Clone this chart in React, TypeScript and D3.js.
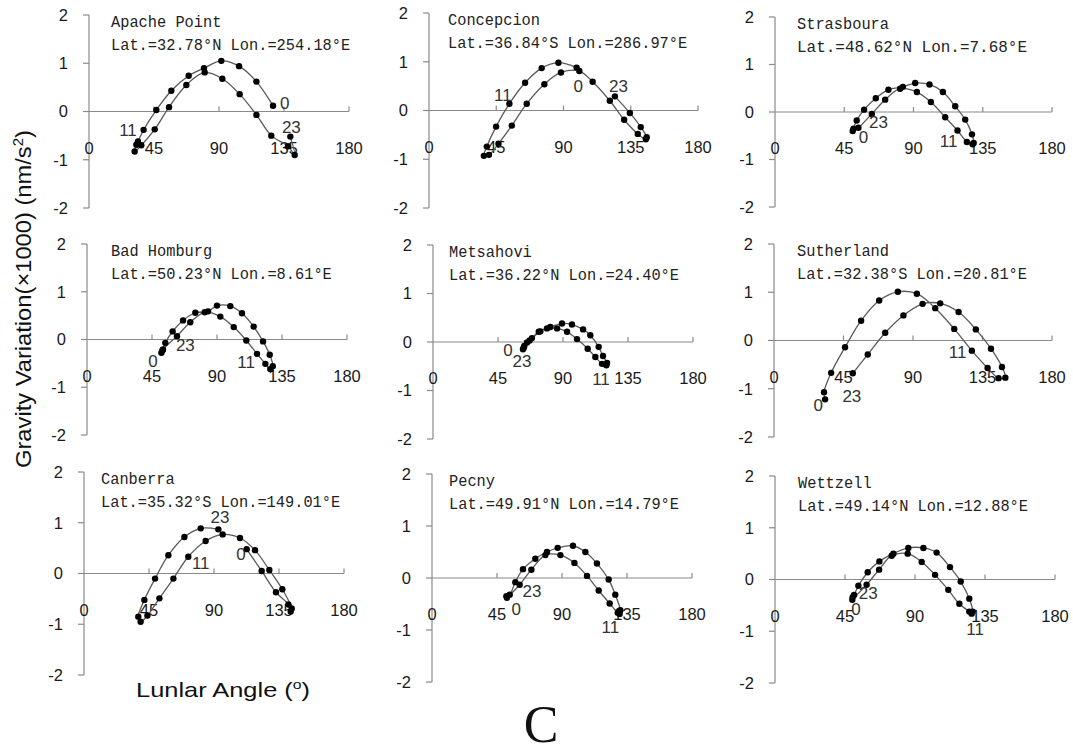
import React from "react";
import * as d3 from "d3";

const X_TICKS = [0, 45, 90, 135, 180];
const Y_TICKS = [2, 1, 0, -1, -2];

const STATION_NAMES = [
  "Apache Point", "Concepcion", "Strasboura",
  "Bad Homburg", "Metsahovi", "Sutherland",
  "Canberra", "Pecny", "Wettzell",
];
const STATION_COORDS = [
  "Lat.=32.78°N Lon.=254.18°E", "Lat.=36.84°S Lon.=286.97°E", "Lat.=48.62°N  Lon.=7.68°E",
  "Lat.=50.23°N Lon.=8.61°E", "Lat.=36.22°N Lon.=24.40°E", "Lat.=32.38°S Lon.=20.81°E",
  "Lat.=35.32°S Lon.=149.01°E", "Lat.=49.91°N Lon.=14.79°E", "Lat.=49.14°N Lon.=12.88°E",
];

// hourly points (hour 0..23): lunar angle (deg) and gravity variation (x1000 nm/s2)
const APACHE_ANGLE = [127.4, 115.9, 103.9, 91.6, 79.6, 69.0, 57.0, 46.6, 37.8, 33.9, 32.8, 31.6, 36.2, 45.5, 55.4, 67.4, 80.1, 92.3, 104.3, 115.9, 126.2, 137.8, 142.4, 139.4];
const APACHE_GRAV = [0.12, 0.62, 0.94, 1.05, 0.9, 0.74, 0.43, 0.03, -0.38, -0.62, -0.69, -0.83, -0.7, -0.37, 0.09, 0.55, 0.81, 0.68, 0.36, -0.07, -0.5, -0.72, -0.9, -0.52];
const CONCEPCION_ANGLE = [98.8, 86.6, 75.4, 64.3, 53.8, 44.9, 38.7, 36.7, 40.1, 46.5, 55.4, 65.4, 77.2, 88.3, 100.6, 109.5, 121.0, 130.6, 139.7, 145.1, 145.7, 141.7, 134.4, 124.4];
const CONCEPCION_GRAV = [0.88, 0.98, 0.87, 0.57, 0.14, -0.33, -0.74, -0.93, -0.91, -0.68, -0.31, 0.14, 0.54, 0.78, 0.81, 0.59, 0.2, -0.19, -0.48, -0.59, -0.55, -0.34, -0.05, 0.29];
const STRAS_ANGLE = [50.5, 54.2, 62.9, 71.6, 81.3, 92.2, 101.3, 110.6, 118.6, 124.7, 128.4, 129.1, 128.0, 123.6, 117.1, 109.1, 100.4, 91.1, 83.1, 73.7, 65.5, 57.9, 53.1, 51.0];
const STRAS_GRAV = [-0.4, -0.33, -0.04, 0.26, 0.49, 0.42, 0.21, -0.11, -0.39, -0.63, -0.68, -0.65, -0.47, -0.16, 0.12, 0.42, 0.58, 0.61, 0.53, 0.47, 0.29, 0.05, -0.18, -0.35];
const HOMBURG_ANGLE = [51.5, 52.6, 62.3, 71.5, 81.5, 92.3, 101.6, 110.3, 117.7, 123.5, 126.9, 128.6, 126.5, 121.9, 115.4, 107.3, 99.2, 90.0, 83.8, 75.0, 66.5, 59.3, 54.2, 52.2];
const HOMBURG_GRAV = [-0.28, -0.21, 0.07, 0.36, 0.57, 0.48, 0.26, -0.02, -0.3, -0.51, -0.62, -0.56, -0.32, -0.04, 0.27, 0.55, 0.7, 0.71, 0.59, 0.56, 0.4, 0.17, -0.07, -0.23];
const METSAHOVI_ANGLE = [62.3, 66.9, 73.2, 78.9, 85.9, 92.8, 99.7, 107.1, 112.4, 117.0, 120.0, 120.5, 117.7, 114.7, 108.9, 103.9, 96.2, 89.3, 81.2, 74.3, 68.5, 65.1, 63.2, 62.8];
const METSAHOVI_GRAV = [-0.15, 0.03, 0.21, 0.28, 0.28, 0.21, 0.06, -0.14, -0.31, -0.45, -0.48, -0.43, -0.29, -0.1, 0.14, 0.26, 0.36, 0.38, 0.31, 0.22, 0.08, -0.01, -0.08, -0.12];
const SUTHERLAND_ANGLE = [33.1, 32.4, 37.0, 46.0, 56.4, 68.1, 80.2, 92.5, 104.4, 116.7, 128.1, 138.3, 145.4, 149.8, 147.6, 140.5, 130.7, 119.5, 107.6, 96.2, 83.8, 72.0, 60.7, 51.0];
const SUTHERLAND_GRAV = [-1.22, -1.07, -0.67, -0.14, 0.41, 0.83, 1.01, 0.97, 0.67, 0.24, -0.21, -0.57, -0.78, -0.77, -0.55, -0.17, 0.23, 0.59, 0.77, 0.76, 0.52, 0.16, -0.29, -0.68];
const CANBERRA_ANGLE = [112.6, 123.0, 132.9, 141.5, 143.1, 143.8, 137.3, 128.3, 118.4, 108.0, 96.0, 84.2, 72.2, 61.9, 52.2, 43.9, 39.2, 37.6, 41.8, 49.2, 58.4, 69.5, 80.8, 93.0];
const CANBERRA_GRAV = [0.48, 0.05, -0.37, -0.61, -0.75, -0.69, -0.31, 0.07, 0.46, 0.7, 0.77, 0.64, 0.33, -0.1, -0.49, -0.83, -0.95, -0.85, -0.52, -0.1, 0.36, 0.72, 0.89, 0.87];
const PECNY_ANGLE = [51.9, 60.7, 68.8, 78.5, 88.9, 98.6, 107.3, 115.4, 123.0, 128.6, 129.9, 130.4, 126.9, 122.3, 114.2, 106.2, 97.6, 87.0, 79.6, 71.5, 63.0, 57.7, 53.8, 51.5];
const PECNY_GRAV = [-0.38, -0.13, 0.16, 0.44, 0.44, 0.29, 0.04, -0.24, -0.49, -0.67, -0.69, -0.62, -0.32, -0.03, 0.28, 0.5, 0.62, 0.58, 0.5, 0.37, 0.17, -0.08, -0.32, -0.35];
const WETTZELL_ANGLE = [49.7, 58.9, 66.9, 75.0, 85.3, 94.3, 102.9, 111.4, 118.5, 124.9, 126.4, 127.1, 124.9, 119.4, 112.5, 103.9, 95.4, 85.7, 76.1, 67.1, 59.6, 53.6, 50.8, 49.9];
const WETTZELL_GRAV = [-0.39, -0.1, 0.19, 0.46, 0.5, 0.34, 0.09, -0.2, -0.47, -0.62, -0.66, -0.62, -0.37, -0.04, 0.24, 0.52, 0.61, 0.61, 0.5, 0.35, 0.14, -0.12, -0.3, -0.34];

// hour annotations: [text, angle, value]
const APACHE_TAGS = [["0", 135.5, 0.17], ["11", 27.0, -0.38], ["23", 140.1, -0.31]];
const CONCEPCION_TAGS = [["11", 49.4, 0.32], ["0", 99.9, 0.51], ["23", 126.8, 0.51]];
const STRAS_TAGS = [["23", 67.2, -0.21], ["0", 57.5, -0.53], ["11", 112.8, -0.6]];
const HOMBURG_TAGS = [["23", 68.1, -0.11], ["0", 45.7, -0.44], ["11", 110.1, -0.46]];
const METSAHOVI_TAGS = [["0", 51.9, -0.17], ["23", 61.6, -0.38], ["11", 116.3, -0.76]];
const SUTHERLAND_TAGS = [["11", 118.9, -0.24], ["0", 28.7, -1.34], ["23", 50.4, -1.15]];
const CANBERRA_TAGS = [["23", 94.2, 1.11], ["0", 108.7, 0.39], ["11", 80.8, 0.2]];
const PECNY_TAGS = [["23", 69.2, -0.24], ["0", 58.4, -0.59], ["11", 123.5, -0.94]];
const WETTZELL_TAGS = [["23", 60.0, -0.25], ["0", 52.1, -0.57], ["11", 128.6, -0.95]];

const ANGLES = [APACHE_ANGLE, CONCEPCION_ANGLE, STRAS_ANGLE, HOMBURG_ANGLE, METSAHOVI_ANGLE, SUTHERLAND_ANGLE, CANBERRA_ANGLE, PECNY_ANGLE, WETTZELL_ANGLE];
const GRAVS = [APACHE_GRAV, CONCEPCION_GRAV, STRAS_GRAV, HOMBURG_GRAV, METSAHOVI_GRAV, SUTHERLAND_GRAV, CANBERRA_GRAV, PECNY_GRAV, WETTZELL_GRAV];
const TAGS = [APACHE_TAGS, CONCEPCION_TAGS, STRAS_TAGS, HOMBURG_TAGS, METSAHOVI_TAGS, SUTHERLAND_TAGS, CANBERRA_TAGS, PECNY_TAGS, WETTZELL_TAGS];

// panel boxes in page pixels: [x at 0deg, x at 180deg, y at 2, y at -2]
const PANEL_BOX = [
  [89, 349, 15, 208], [429, 698, 13, 208], [775, 1052, 17, 207],
  [87, 347, 244, 435], [433, 693, 245, 439], [774, 1052, 244, 437],
  [84, 344, 472, 675], [432, 692, 474, 682], [775, 1055, 476, 683],
];
const NAME_DX = [22, 19, 22, 24, 16, 23, 17, 17, 23];

const AXIS_COLOR = "#8a8a8a";
const TICK_FONT = "'Liberation Sans', Arial, sans-serif";
const MONO_FONT = "'Liberation Mono', 'DejaVu Sans Mono', monospace";
const CHAR_W = 9.2; // station text advance per character

const Panel = ({ i }: { i: number }) => {
  const [x0, x1, yTop, yBot] = PANEL_BOX[i];
  const x = d3.scaleLinear().domain([0, 180]).range([x0, x1]);
  const y = d3.scaleLinear().domain([2, -2]).range([yTop, yBot]);
  const pts = ANGLES[i].map((a, k) => [a, GRAVS[i][k]] as [number, number]);
  const line = d3
    .line<[number, number]>()
    .x((d) => x(d[0]))
    .y((d) => y(d[1]))
    .curve(d3.curveCatmullRom.alpha(0.5));

  return (
    <g>
      {/* y axis */}
      <line x1={x0} x2={x0} y1={y(2)} y2={y(-2)} stroke={AXIS_COLOR} strokeWidth={1.2} />
      {Y_TICKS.map((t) => (
        <g key={t}>
          <line x1={x0 - 6} x2={x0} y1={y(t)} y2={y(t)} stroke={AXIS_COLOR} strokeWidth={1.2} />
          <text x={x0 - 21} y={y(t)} dy="0.36em" textAnchor="end" fontFamily={TICK_FONT} fontSize={16.5} fill="#1a1a1a">
            {t}
          </text>
        </g>
      ))}
      {/* x axis through zero */}
      <line x1={x0} x2={x1} y1={y(0)} y2={y(0)} stroke={AXIS_COLOR} strokeWidth={1.2} />
      {X_TICKS.map((t) => (
        <g key={t}>
          {t > 0 && <line x1={x(t)} x2={x(t)} y1={y(0) - 5} y2={y(0)} stroke={AXIS_COLOR} strokeWidth={1.2} />}
          <text x={x(t)} y={y(0) + 42} textAnchor="middle" fontFamily={TICK_FONT} fontSize={16.5} fill="#1a1a1a">
            {t}
          </text>
        </g>
      ))}
      {/* station info */}
      <text
        x={x0 + NAME_DX[i]}
        y={yTop + 12}
        fontFamily={MONO_FONT}
        fontSize={16.5}
        fill="#222"
        textLength={STATION_NAMES[i].length * CHAR_W}
        lengthAdjust="spacingAndGlyphs"
      >
        {STATION_NAMES[i]}
      </text>
      <text
        x={x0 + NAME_DX[i]}
        y={yTop + 35}
        fontFamily={MONO_FONT}
        fontSize={16.5}
        fill="#222"
        textLength={STATION_COORDS[i].length * CHAR_W}
        lengthAdjust="spacingAndGlyphs"
      >
        {STATION_COORDS[i]}
      </text>
      {/* loop */}
      <path d={line(pts) || ""} fill="none" stroke="#5a5a5a" strokeWidth={1.3} />
      {pts.map((d, k) => (
        <circle key={k} cx={x(d[0])} cy={y(d[1])} r={3.2} fill="#000" />
      ))}
      {TAGS[i].map((t, k) => (
        <text
          key={k}
          x={x(t[1] as number)}
          y={y(t[2] as number)}
          dy="0.36em"
          textAnchor="middle"
          fontFamily={TICK_FONT}
          fontSize={17}
          fill="#333"
        >
          {t[0]}
        </text>
      ))}
    </g>
  );
};

export default function App() {
  return (
    <svg
      width={1073}
      height={754}
      style={{ position: "absolute", left: 0, top: 0, background: "#fff" }}
    >
      {PANEL_BOX.map((_, i) => (
        <Panel key={i} i={i} />
      ))}
      <text
        transform="translate(31,299) rotate(-90)"
        textAnchor="middle"
        fontFamily={TICK_FONT}
        fontSize={22}
        fill="#111"
        textLength={338}
        lengthAdjust="spacingAndGlyphs"
      >
        Gravity Variation(×1000) (nm/s<tspan dy="-8" fontSize={14}>2</tspan><tspan dy="8">)</tspan>
      </text>
      <text
        x={223}
        y={697}
        textAnchor="middle"
        fontFamily={TICK_FONT}
        fontSize={21}
        fill="#111"
        textLength={174}
        lengthAdjust="spacingAndGlyphs"
      >
        Lunlar Angle (<tspan dy="-8" fontSize={13}>o</tspan><tspan dy="8">)</tspan>
      </text>
      <text x={541} y={742} textAnchor="middle" fontFamily="'Liberation Serif', serif" fontSize={52} fill="#111">
        C
      </text>
    </svg>
  );
}
